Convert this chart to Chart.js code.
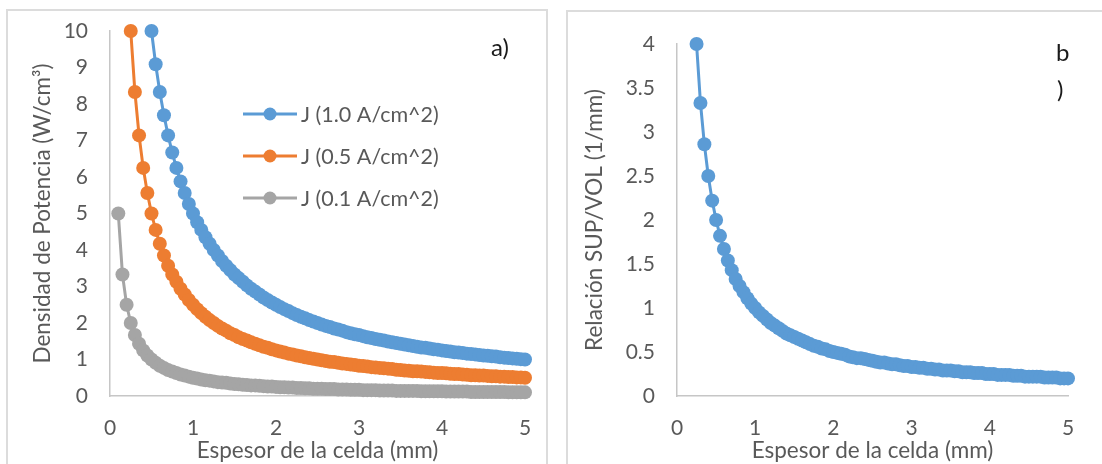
<!DOCTYPE html>
<html>
<head>
<meta charset="utf-8">
<script src="https://cdn.jsdelivr.net/npm/chart.js@4.4.1/dist/chart.umd.min.js"></script>
<style>
  body { margin: 0; width: 1102px; height: 464px; overflow: hidden; background: #fff; position: relative; font-family: Lato, sans-serif; }
  .box { position: absolute; border: 2px solid #dcdcdc; background: #fff; }
  #boxA { left: 6px; top: 9px; width: 538px; height: 470px; }
  #boxB { left: 566px; top: 10px; width: 560px; height: 470px; }
  .box canvas { position: absolute; left: 0; top: 0; }
  .tag { position: absolute; font-family: Lato, sans-serif; font-size: 24px; color: #1a1a1a; line-height: 1; }
</style>
</head>
<body>
<div class="box" id="boxA"><canvas id="chartA" width="538" height="453"></canvas></div>
<div class="box" id="boxB"><canvas id="chartB" width="534" height="452"></canvas></div>
<div class="tag" style="left:491px; top:35px;">a)</div>
<div class="tag" style="left:1056px; top:40px;">b</div>
<div class="tag" style="left:1057px; top:77px;">)</div>
<script>
// espesor de la celda (mm)
const espesor = [0.10,0.15,0.20,0.25,0.30,0.35,0.40,0.45,0.50,0.55,0.60,0.65,0.70,0.75,0.80,0.85,0.90,0.95,
  1.00,1.05,1.10,1.15,1.20,1.25,1.30,1.35,1.40,1.45,1.50,1.55,1.60,1.65,1.70,1.75,1.80,1.85,1.90,1.95,
  2.00,2.05,2.10,2.15,2.20,2.25,2.30,2.35,2.40,2.45,2.50,2.55,2.60,2.65,2.70,2.75,2.80,2.85,2.90,2.95,
  3.00,3.05,3.10,3.15,3.20,3.25,3.30,3.35,3.40,3.45,3.50,3.55,3.60,3.65,3.70,3.75,3.80,3.85,3.90,3.95,
  4.00,4.05,4.10,4.15,4.20,4.25,4.30,4.35,4.40,4.45,4.50,4.55,4.60,4.65,4.70,4.75,4.80,4.85,4.90,4.95,5.00];

// densidad de potencia (W/cm3), null = sin dato
const j10 = [null,null,null,null,null,null,null,null,10.00,9.09,8.33,7.69,7.14,6.67,6.25,5.88,5.56,5.26,
  5.00,4.76,4.55,4.35,4.17,4.00,3.85,3.70,3.57,3.45,3.33,3.23,3.13,3.03,2.94,2.86,2.78,2.70,2.63,2.56,
  2.50,2.44,2.38,2.33,2.27,2.22,2.17,2.13,2.08,2.04,2.00,1.96,1.92,1.89,1.85,1.82,1.79,1.75,1.72,1.69,
  1.67,1.64,1.61,1.59,1.56,1.54,1.52,1.49,1.47,1.45,1.43,1.41,1.39,1.37,1.35,1.33,1.32,1.30,1.28,1.27,
  1.25,1.23,1.22,1.20,1.19,1.18,1.16,1.15,1.14,1.12,1.11,1.10,1.09,1.08,1.06,1.05,1.04,1.03,1.02,1.01,1.00];
const j05 = [null,null,null,10.00,8.33,7.14,6.25,5.56,5.00,4.55,4.17,3.85,3.57,3.33,3.13,2.94,2.78,2.63,
  2.50,2.38,2.27,2.17,2.08,2.00,1.92,1.85,1.79,1.72,1.67,1.61,1.56,1.52,1.47,1.43,1.39,1.35,1.32,1.28,
  1.25,1.22,1.19,1.16,1.14,1.11,1.09,1.06,1.04,1.02,1.00,0.98,0.96,0.94,0.93,0.91,0.89,0.88,0.86,0.85,
  0.83,0.82,0.81,0.79,0.78,0.77,0.76,0.75,0.74,0.72,0.71,0.70,0.69,0.68,0.68,0.67,0.66,0.65,0.64,0.63,
  0.63,0.62,0.61,0.60,0.60,0.59,0.58,0.57,0.57,0.56,0.56,0.55,0.54,0.54,0.53,0.53,0.52,0.52,0.51,0.51,0.50];
const j01 = [5.00,3.33,2.50,2.00,1.67,1.43,1.25,1.11,1.00,0.91,0.83,0.77,0.71,0.67,0.63,0.59,0.56,0.53,
  0.50,0.48,0.45,0.43,0.42,0.40,0.38,0.37,0.36,0.34,0.33,0.32,0.31,0.30,0.29,0.29,0.28,0.27,0.26,0.26,
  0.25,0.24,0.24,0.23,0.23,0.22,0.22,0.21,0.21,0.20,0.20,0.20,0.19,0.19,0.19,0.18,0.18,0.18,0.17,0.17,
  0.17,0.16,0.16,0.16,0.16,0.15,0.15,0.15,0.15,0.14,0.14,0.14,0.14,0.14,0.14,0.13,0.13,0.13,0.13,0.13,
  0.13,0.12,0.12,0.12,0.12,0.12,0.12,0.11,0.11,0.11,0.11,0.11,0.11,0.11,0.11,0.11,0.10,0.10,0.10,0.10,0.10];

// relacion SUP/VOL (1/mm)
const supVol = [null,null,null,4.00,3.33,2.86,2.50,2.22,2.00,1.82,1.67,1.54,1.43,1.33,1.25,1.18,1.11,1.05,
  1.00,0.95,0.91,0.87,0.83,0.80,0.77,0.74,0.71,0.69,0.67,0.65,0.63,0.61,0.59,0.57,0.56,0.54,0.53,0.51,
  0.50,0.49,0.48,0.47,0.45,0.44,0.43,0.43,0.42,0.41,0.40,0.39,0.38,0.38,0.37,0.36,0.36,0.35,0.34,0.34,
  0.33,0.33,0.32,0.32,0.31,0.31,0.30,0.30,0.29,0.29,0.29,0.28,0.28,0.27,0.27,0.27,0.26,0.26,0.26,0.25,
  0.25,0.25,0.24,0.24,0.24,0.24,0.23,0.23,0.23,0.22,0.22,0.22,0.22,0.22,0.21,0.21,0.21,0.21,0.20,0.20,0.20];

const labelsA = ['J (1.0 A/cm^2)', 'J (0.5 A/cm^2)', 'J (0.1 A/cm^2)'];
const colorsA = ['#5b9bd5', '#ed7d31', '#a5a5a5'];

const textColor = '#595959';
const axisColor = '#c6c6c6';
const font = 'Lato, sans-serif';

const toPoints = (ys) => espesor.map((x, i) => ({ x: x, y: ys[i] })).filter(p => p.y !== null);

const makeSet = (label, ys, color) => ({
  label: label,
  data: toPoints(ys),
  showLine: true,
  borderColor: color,
  backgroundColor: color,
  borderWidth: 3,
  pointRadius: 7,
  pointBorderWidth: 0,
  pointBackgroundColor: color,
  clip: false
});

// tamaños de eje fijos para que el area del grafico quede donde la del original
const xAxis = (max, height) => ({
  type: 'linear', min: 0, max: max,
  grid: { display: false, drawTicks: false },
  border: { color: axisColor, width: 1.5 },
  ticks: { stepSize: 1, color: textColor, font: { family: font, size: 21 }, padding: 20 },
  title: { display: true, text: 'Espesor de la celda (mm)', color: textColor,
           font: { family: font, size: 22.5 }, padding: { top: 0, bottom: 0 } },
  afterFit: (s) => { s.height = height; s.paddingLeft = 0; s.paddingRight = 0; }
});

const yAxis = (max, step, title, width, titlePad) => ({
  type: 'linear', min: 0, max: max,
  grid: { display: false, drawTicks: false },
  border: { color: axisColor, width: 1.5 },
  ticks: { stepSize: step, color: textColor, font: { family: font, size: 21 }, padding: 22,
           callback: (v) => String(v) },
  title: { display: true, text: title, color: textColor,
           font: { family: font, size: 22.5 }, padding: { top: titlePad, bottom: 0 } },
  afterFit: (s) => { s.width = width; s.paddingTop = 0; s.paddingBottom = 0; }
});

// leyenda dentro del area del grafico a)
const insideLegend = {
  id: 'insideLegend',
  afterDraw(chart) {
    const ctx = chart.ctx;
    ctx.save();
    chart.data.datasets.forEach((ds, i) => {
      const y = 103 + i * 42;
      ctx.strokeStyle = ds.borderColor;
      ctx.lineWidth = 3;
      ctx.beginPath();
      ctx.moveTo(235, y);
      ctx.lineTo(289, y);
      ctx.stroke();
      ctx.fillStyle = ds.borderColor;
      ctx.beginPath();
      ctx.arc(262, y, 6.5, 0, Math.PI * 2);
      ctx.fill();
      ctx.fillStyle = textColor;
      ctx.font = '21.5px ' + font;
      ctx.textBaseline = 'middle';
      ctx.textAlign = 'left';
      ctx.fillText(ds.label, 293, y + 1);
    });
    ctx.restore();
  }
};

new Chart(document.getElementById('chartA'), {
  type: 'scatter',
  data: {
    datasets: [
      makeSet(labelsA[0], j10, colorsA[0]),
      makeSet(labelsA[1], j05, colorsA[1]),
      makeSet(labelsA[2], j01, colorsA[2])
    ]
  },
  options: {
    responsive: false,
    animation: false,
    layout: { autoPadding: false, padding: { top: 20, right: 21, left: 0, bottom: 0 } },
    plugins: { legend: { display: false }, tooltip: { enabled: false } },
    scales: {
      x: xAxis(5, 68),
      y: yAxis(10, 1, 'Densidad de Potencia (W/cm³)', 102, 21)
    }
  },
  plugins: [insideLegend]
});

new Chart(document.getElementById('chartB'), {
  type: 'scatter',
  data: {
    datasets: [makeSet('SUP/VOL', supVol, '#5b9bd5')]
  },
  options: {
    responsive: false,
    animation: false,
    layout: { autoPadding: false, padding: { top: 32, right: 34, left: 0, bottom: 0 } },
    plugins: { legend: { display: false }, tooltip: { enabled: false } },
    scales: {
      x: xAxis(5, 68),
      y: yAxis(4, 0.5, 'Relación SUP/VOL (1/mm)', 109, 13)
    }
  }
});
</script>
</body>
</html>
